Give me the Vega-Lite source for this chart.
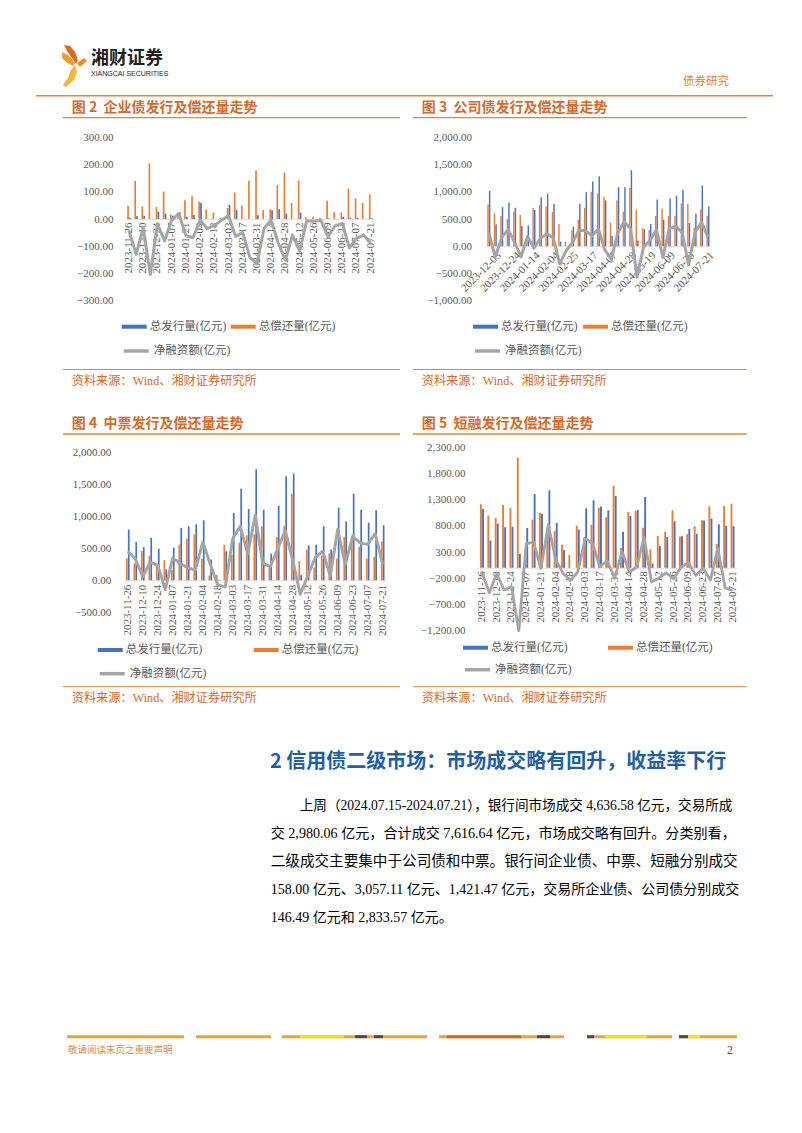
{
  "$schema": "https://vega.github.io/schema/vega-lite/v6.json",
  "width": 802,
  "height": 1133,
  "padding": 0,
  "autosize": {"type": "none"},
  "background": "white",
  "config": {
    "view": {"stroke": null},
    "font": "Noto Sans CJK SC",
    "axis": {"labelFont": "Liberation Serif", "labelFontSize": 11, "labelColor": "#595959", "grid": false, "ticks": false, "tickSize": 0, "labelOverlap": false},
    "legend": {"labelFont": "Liberation Serif, Noto Sans CJK SC", "labelFontSize": 11.5, "labelColor": "#595959", "padding": 0, "labelOffset": 3}
  },
  "datasets": {
    "c2": [
      {"w": "2023-11-26", "issue": 5, "repay": 48, "net": -43},
      {"w": "2023-12-03", "issue": 10, "repay": 140, "net": -130},
      {"w": "2023-12-10", "issue": 12, "repay": 46, "net": -34},
      {"w": "2023-12-17", "issue": 0, "repay": 204, "net": -204},
      {"w": "2023-12-24", "issue": 27, "repay": 44, "net": -17},
      {"w": "2023-12-31", "issue": 20, "repay": 101, "net": -81},
      {"w": "2024-01-07", "issue": 12, "repay": 17, "net": -5},
      {"w": "2024-01-14", "issue": 25, "repay": 5, "net": 20},
      {"w": "2024-01-21", "issue": 8, "repay": 69, "net": -61},
      {"w": "2024-01-28", "issue": 15, "repay": 84, "net": -69},
      {"w": "2024-02-04", "issue": 60, "repay": 64, "net": -4},
      {"w": "2024-02-11", "issue": 0, "repay": 35, "net": -35},
      {"w": "2024-02-18", "issue": 0, "repay": 24, "net": -24},
      {"w": "2024-02-25", "issue": 0, "repay": 5, "net": -5},
      {"w": "2024-03-03", "issue": 52, "repay": 40, "net": 12},
      {"w": "2024-03-10", "issue": 33, "repay": 97, "net": -64},
      {"w": "2024-03-17", "issue": 0, "repay": 50, "net": -50},
      {"w": "2024-03-24", "issue": 0, "repay": 141, "net": -141},
      {"w": "2024-03-31", "issue": 14, "repay": 179, "net": -165},
      {"w": "2024-04-07", "issue": 0, "repay": 34, "net": -34},
      {"w": "2024-04-14", "issue": 32, "repay": 36, "net": -4},
      {"w": "2024-04-21", "issue": 36, "repay": 125, "net": -89},
      {"w": "2024-04-28", "issue": 20, "repay": 171, "net": -151},
      {"w": "2024-05-05", "issue": 0, "repay": 59, "net": -59},
      {"w": "2024-05-12", "issue": 24, "repay": 142, "net": -118},
      {"w": "2024-05-19", "issue": 0, "repay": 6, "net": -6},
      {"w": "2024-05-26", "issue": 0, "repay": 8, "net": -8},
      {"w": "2024-06-02", "issue": 0, "repay": 5, "net": -5},
      {"w": "2024-06-09", "issue": 2, "repay": 67, "net": -65},
      {"w": "2024-06-16", "issue": 0, "repay": 25, "net": -25},
      {"w": "2024-06-23", "issue": 8, "repay": 24, "net": -16},
      {"w": "2024-06-30", "issue": 5, "repay": 111, "net": -106},
      {"w": "2024-07-07", "issue": 5, "repay": 76, "net": -71},
      {"w": "2024-07-14", "issue": 0, "repay": 59, "net": -59},
      {"w": "2024-07-21", "issue": 3, "repay": 91, "net": -88}
    ],
    "c3": [
      {"w": "2023-11-26", "issue": 1018, "repay": 768, "net": 250},
      {"w": "2023-12-03", "issue": 402, "repay": 604, "net": -202},
      {"w": "2023-12-10", "issue": 720, "repay": 555, "net": 165},
      {"w": "2023-12-17", "issue": 805, "repay": 500, "net": 305},
      {"w": "2023-12-24", "issue": 707, "repay": 634, "net": 73},
      {"w": "2023-12-31", "issue": 378, "repay": 573, "net": -195},
      {"w": "2024-01-07", "issue": 378, "repay": 197, "net": 181},
      {"w": "2024-01-14", "issue": 665, "repay": 700, "net": -35},
      {"w": "2024-01-21", "issue": 902, "repay": 756, "net": 146},
      {"w": "2024-01-28", "issue": 963, "repay": 732, "net": 231},
      {"w": "2024-02-04", "issue": 780, "repay": 628, "net": 152},
      {"w": "2024-02-11", "issue": 85, "repay": 409, "net": -324},
      {"w": "2024-02-18", "issue": 0, "repay": 80, "net": -80},
      {"w": "2024-02-25", "issue": 362, "repay": 294, "net": 68},
      {"w": "2024-03-03", "issue": 780, "repay": 488, "net": 292},
      {"w": "2024-03-10", "issue": 994, "repay": 707, "net": 287},
      {"w": "2024-03-17", "issue": 1189, "repay": 1000, "net": 189},
      {"w": "2024-03-24", "issue": 1287, "repay": 970, "net": 317},
      {"w": "2024-03-31", "issue": 841, "repay": 909, "net": -68},
      {"w": "2024-04-07", "issue": 189, "repay": 433, "net": -244},
      {"w": "2024-04-14", "issue": 1085, "repay": 841, "net": 244},
      {"w": "2024-04-21", "issue": 1085, "repay": 634, "net": 451},
      {"w": "2024-04-28", "issue": 1396, "repay": 1073, "net": 323},
      {"w": "2024-05-05", "issue": 104, "repay": 671, "net": -567},
      {"w": "2024-05-12", "issue": 311, "repay": 329, "net": -18},
      {"w": "2024-05-19", "issue": 409, "repay": 299, "net": 110},
      {"w": "2024-05-26", "issue": 860, "repay": 555, "net": 305},
      {"w": "2024-06-02", "issue": 488, "repay": 695, "net": -207},
      {"w": "2024-06-09", "issue": 878, "repay": 555, "net": 323},
      {"w": "2024-06-16", "issue": 927, "repay": 561, "net": 366},
      {"w": "2024-06-23", "issue": 1037, "repay": 787, "net": 250},
      {"w": "2024-06-30", "issue": 427, "repay": 774, "net": -347},
      {"w": "2024-07-07", "issue": 598, "repay": 341, "net": 257},
      {"w": "2024-07-14", "issue": 1116, "repay": 677, "net": 439},
      {"w": "2024-07-21", "issue": 732, "repay": 561, "net": 171}
    ],
    "c4": [
      {"w": "2023-11-26", "issue": 793, "repay": 340, "net": 453},
      {"w": "2023-12-03", "issue": 597, "repay": 263, "net": 334},
      {"w": "2023-12-10", "issue": 520, "repay": 458, "net": 62},
      {"w": "2023-12-17", "issue": 664, "repay": 381, "net": 283},
      {"w": "2023-12-24", "issue": 494, "repay": 263, "net": 231},
      {"w": "2023-12-31", "issue": 170, "repay": 314, "net": -144},
      {"w": "2024-01-07", "issue": 510, "repay": 160, "net": 350},
      {"w": "2024-01-14", "issue": 819, "repay": 556, "net": 263},
      {"w": "2024-01-21", "issue": 845, "repay": 649, "net": 196},
      {"w": "2024-01-28", "issue": 875, "repay": 716, "net": 159},
      {"w": "2024-02-04", "issue": 937, "repay": 340, "net": 597},
      {"w": "2024-02-11", "issue": 324, "repay": 74, "net": 250},
      {"w": "2024-02-18", "issue": 10, "repay": 82, "net": -72},
      {"w": "2024-02-25", "issue": 453, "repay": 556, "net": -103},
      {"w": "2024-03-03", "issue": 1052, "repay": 400, "net": 652},
      {"w": "2024-03-10", "issue": 1432, "repay": 589, "net": 843},
      {"w": "2024-03-17", "issue": 1115, "repay": 703, "net": 412},
      {"w": "2024-03-24", "issue": 1734, "repay": 718, "net": 1016},
      {"w": "2024-03-31", "issue": 1104, "repay": 840, "net": 264},
      {"w": "2024-04-07", "issue": 417, "repay": 205, "net": 212},
      {"w": "2024-04-14", "issue": 1167, "repay": 677, "net": 490},
      {"w": "2024-04-21", "issue": 1625, "repay": 849, "net": 776},
      {"w": "2024-04-28", "issue": 1667, "repay": 1354, "net": 313},
      {"w": "2024-05-05", "issue": 82, "repay": 299, "net": -217},
      {"w": "2024-05-12", "issue": 546, "repay": 479, "net": 67},
      {"w": "2024-05-19", "issue": 556, "repay": 200, "net": 356},
      {"w": "2024-05-26", "issue": 845, "repay": 391, "net": 454},
      {"w": "2024-06-02", "issue": 484, "repay": 417, "net": 67},
      {"w": "2024-06-09", "issue": 1135, "repay": 340, "net": 795},
      {"w": "2024-06-16", "issue": 922, "repay": 675, "net": 247},
      {"w": "2024-06-23", "issue": 1354, "repay": 667, "net": 687},
      {"w": "2024-06-30", "issue": 1104, "repay": 521, "net": 583},
      {"w": "2024-07-07", "issue": 901, "repay": 340, "net": 561},
      {"w": "2024-07-14", "issue": 1094, "repay": 366, "net": 728},
      {"w": "2024-07-21", "issue": 859, "repay": 608, "net": 251}
    ],
    "c5": [
      {"w": "2023-11-26", "issue": 1123, "repay": 1212, "net": -89},
      {"w": "2023-12-03", "issue": 522, "repay": 996, "net": -474},
      {"w": "2023-12-10", "issue": 844, "repay": 952, "net": -108},
      {"w": "2023-12-17", "issue": 775, "repay": 1199, "net": -424},
      {"w": "2023-12-24", "issue": 782, "repay": 1142, "net": -360},
      {"w": "2023-12-31", "issue": 269, "repay": 2103, "net": -1834},
      {"w": "2024-01-07", "issue": 762, "repay": 302, "net": 460},
      {"w": "2024-01-14", "issue": 1408, "repay": 920, "net": 488},
      {"w": "2024-01-21", "issue": 1034, "repay": 1047, "net": -13},
      {"w": "2024-01-28", "issue": 1478, "repay": 652, "net": 826},
      {"w": "2024-02-04", "issue": 857, "repay": 700, "net": 157},
      {"w": "2024-02-11", "issue": 338, "repay": 440, "net": -102},
      {"w": "2024-02-18", "issue": 0, "repay": 243, "net": -243},
      {"w": "2024-02-25", "issue": 731, "repay": 807, "net": -76},
      {"w": "2024-03-03", "issue": 1136, "repay": 580, "net": 556},
      {"w": "2024-03-10", "issue": 1288, "repay": 820, "net": 468},
      {"w": "2024-03-17", "issue": 1170, "repay": 1150, "net": 20},
      {"w": "2024-03-24", "issue": 1098, "repay": 965, "net": 133},
      {"w": "2024-03-31", "issue": 1370, "repay": 1565, "net": -195},
      {"w": "2024-04-07", "issue": 687, "repay": 382, "net": 305},
      {"w": "2024-04-14", "issue": 991, "repay": 1067, "net": -76},
      {"w": "2024-04-21", "issue": 1100, "repay": 1090, "net": 10},
      {"w": "2024-04-28", "issue": 1351, "repay": 763, "net": 588},
      {"w": "2024-05-05", "issue": 80, "repay": 351, "net": -271},
      {"w": "2024-05-12", "issue": 414, "repay": 611, "net": -197},
      {"w": "2024-05-19", "issue": 592, "repay": 687, "net": -95},
      {"w": "2024-05-26", "issue": 889, "repay": 1098, "net": -209},
      {"w": "2024-06-02", "issue": 604, "repay": 598, "net": 6},
      {"w": "2024-06-09", "issue": 744, "repay": 642, "net": 102},
      {"w": "2024-06-16", "issue": 649, "repay": 794, "net": -145},
      {"w": "2024-06-23", "issue": 902, "repay": 908, "net": -6},
      {"w": "2024-06-30", "issue": 940, "repay": 1174, "net": -234},
      {"w": "2024-07-07", "issue": 832, "repay": 458, "net": 374},
      {"w": "2024-07-14", "issue": 800, "repay": 1180, "net": -380},
      {"w": "2024-07-21", "issue": 794, "repay": 1225, "net": -431}
    ]
  },
  "layer": [
    {
      "data": {"values": [{}]},
      "layer": [
        {"mark": {"type": "point", "filled": true, "strokeWidth": 0, "opacity": 1, "size": 1936, "color": "#e06a1b", "shape": "M-0.36,-0.91L-0.09,-0.86L0.14,-0.59L0.27,-0.23L0.18,-0.05L0,-0.32L-0.23,-0.64Z"},
         "encoding": {"x": {"datum": 72, "type": "quantitative", "scale": {"domain": [0, 802], "range": [0, 802], "nice": false, "zero": false}, "axis": null},
                      "y": {"datum": 65, "type": "quantitative", "scale": {"domain": [0, 1133], "range": [0, 1133], "nice": false, "zero": false}, "axis": null}}},
        {"mark": {"type": "point", "filled": true, "strokeWidth": 0, "opacity": 1, "size": 1936, "color": "#f39a2b", "shape": "M-0.45,-0.59L-0.18,-0.45L0.14,-0.09L0.05,0.05L-0.27,-0.14L-0.45,-0.32Z"},
         "encoding": {"x": {"datum": 72, "type": "quantitative"}, "y": {"datum": 65, "type": "quantitative"}}},
        {"mark": {"type": "point", "filled": true, "strokeWidth": 0, "opacity": 1, "size": 1936, "color": "#f7b440", "shape": "M0.14,0L0.23,0.32L0.09,0.68L-0.27,1L-0.41,0.91L-0.18,0.59L-0.05,0.23Z"},
         "encoding": {"x": {"datum": 72, "type": "quantitative"}, "y": {"datum": 65, "type": "quantitative"}}},
        {"mark": {"type": "point", "filled": true, "strokeWidth": 0, "opacity": 1, "size": 1936, "color": "#ef8c22", "shape": "M0.23,-0.09L0.55,-0.32L0.68,-0.18L0.36,0.09Z"},
         "encoding": {"x": {"datum": 72, "type": "quantitative"}, "y": {"datum": 65, "type": "quantitative"}}},
        {"mark": {"type": "text", "text": "湘财证券", "font": "Noto Sans CJK SC", "fontSize": 18, "fontWeight": "bold", "color": "#231f20", "align": "left", "baseline": "middle"},
         "encoding": {"x": {"datum": 91}, "y": {"datum": 58.5}}},
        {"mark": {"type": "text", "text": "XIANGCAI SECURITIES", "font": "Liberation Sans Narrow, Liberation Sans", "fontSize": 7, "color": "#231f20", "align": "left", "baseline": "middle"},
         "encoding": {"x": {"datum": 91}, "y": {"datum": 73.5}}},
        {"mark": {"type": "text", "text": "债券研究", "font": "Noto Sans CJK SC", "fontSize": 11.5, "color": "#d9823b", "align": "left", "baseline": "middle"},
         "encoding": {"x": {"datum": 683}, "y": {"datum": 82}}},
        {"mark": {"type": "rule", "color": "#e8833a", "strokeWidth": 1.5},
         "encoding": {"x": {"datum": 36}, "x2": {"datum": 773}, "y": {"datum": 95.7}}},
        {"mark": {"type": "text", "text": "图\u00a02\u00a0\u00a0企业债发行及偿还量走势", "fontSize": 14, "fontWeight": "bold", "color": "#d8692a", "align": "left", "baseline": "middle"},
         "encoding": {"x": {"datum": 71.7}, "y": {"datum": 107.7}}},
        {"mark": {"type": "text", "text": "图\u00a03\u00a0\u00a0公司债发行及偿还量走势", "fontSize": 14, "fontWeight": "bold", "color": "#d8692a", "align": "left", "baseline": "middle"},
         "encoding": {"x": {"datum": 421.7}, "y": {"datum": 107.7}}},
        {"mark": {"type": "rule", "color": "#e8833a", "strokeWidth": 1.3},
         "encoding": {"x": {"datum": 63}, "x2": {"datum": 400}, "y": {"datum": 117.7}}},
        {"mark": {"type": "rule", "color": "#e8833a", "strokeWidth": 1.3},
         "encoding": {"x": {"datum": 413}, "x2": {"datum": 746.7}, "y": {"datum": 117.7}}},
        {"mark": {"type": "rule", "color": "#e8833a", "strokeWidth": 1},
         "encoding": {"x": {"datum": 63}, "x2": {"datum": 400}, "y": {"datum": 369.5}}},
        {"mark": {"type": "rule", "color": "#e8833a", "strokeWidth": 1},
         "encoding": {"x": {"datum": 413}, "x2": {"datum": 746.7}, "y": {"datum": 369.5}}},
        {"mark": {"type": "text", "text": "资料来源：Wind、湘财证券研究所", "font": "Liberation Serif, Noto Sans CJK SC", "fontSize": 12.2, "color": "#d8692a", "align": "left", "baseline": "middle"},
         "encoding": {"x": {"datum": 71.7}, "y": {"datum": 381}}},
        {"mark": {"type": "text", "text": "资料来源：Wind、湘财证券研究所", "font": "Liberation Serif, Noto Sans CJK SC", "fontSize": 12.2, "color": "#d8692a", "align": "left", "baseline": "middle"},
         "encoding": {"x": {"datum": 421.7}, "y": {"datum": 381}}},
        {"mark": {"type": "text", "text": "图\u00a04\u00a0\u00a0中票发行及偿还量走势", "fontSize": 14, "fontWeight": "bold", "color": "#d8692a", "align": "left", "baseline": "middle"},
         "encoding": {"x": {"datum": 71.7}, "y": {"datum": 423.5}}},
        {"mark": {"type": "text", "text": "图\u00a05\u00a0\u00a0短融发行及偿还量走势", "fontSize": 14, "fontWeight": "bold", "color": "#d8692a", "align": "left", "baseline": "middle"},
         "encoding": {"x": {"datum": 421.7}, "y": {"datum": 423.5}}},
        {"mark": {"type": "rule", "color": "#e8833a", "strokeWidth": 1.3},
         "encoding": {"x": {"datum": 63}, "x2": {"datum": 400}, "y": {"datum": 434}}},
        {"mark": {"type": "rule", "color": "#e8833a", "strokeWidth": 1.3},
         "encoding": {"x": {"datum": 413}, "x2": {"datum": 746.7}, "y": {"datum": 434}}},
        {"mark": {"type": "rule", "color": "#e8833a", "strokeWidth": 1},
         "encoding": {"x": {"datum": 63}, "x2": {"datum": 400}, "y": {"datum": 686.7}}},
        {"mark": {"type": "rule", "color": "#e8833a", "strokeWidth": 1},
         "encoding": {"x": {"datum": 413}, "x2": {"datum": 746.7}, "y": {"datum": 686.7}}},
        {"mark": {"type": "text", "text": "资料来源：Wind、湘财证券研究所", "font": "Liberation Serif, Noto Sans CJK SC", "fontSize": 12.2, "color": "#d8692a", "align": "left", "baseline": "middle"},
         "encoding": {"x": {"datum": 71.7}, "y": {"datum": 698}}},
        {"mark": {"type": "text", "text": "资料来源：Wind、湘财证券研究所", "font": "Liberation Serif, Noto Sans CJK SC", "fontSize": 12.2, "color": "#d8692a", "align": "left", "baseline": "middle"},
         "encoding": {"x": {"datum": 421.7}, "y": {"datum": 698}}},
        {"mark": {"type": "text", "text": "2 信用债二级市场：市场成交略有回升，收益率下行", "font": "Noto Sans CJK SC", "fontSize": 20, "fontWeight": "bold", "color": "#1f5fa5", "align": "left", "baseline": "middle"},
         "encoding": {"x": {"datum": 270}, "y": {"datum": 762}}},
        {"mark": {"type": "text", "text": "上周（2024.07.15-2024.07.21），银行间市场成交 4,636.58 亿元，交易所成", "font": "Liberation Serif, Noto Sans CJK SC", "fontSize": 13.6, "color": "#000000", "align": "left", "baseline": "middle"},
         "encoding": {"x": {"datum": 299.7}, "y": {"datum": 805.5}}},
        {"mark": {"type": "text", "text": "交 2,980.06 亿元，合计成交 7,616.64 亿元，市场成交略有回升。分类别看，", "font": "Liberation Serif, Noto Sans CJK SC", "fontSize": 14.1, "color": "#000000", "align": "left", "baseline": "middle"},
         "encoding": {"x": {"datum": 270.7}, "y": {"datum": 833.6}}},
        {"mark": {"type": "text", "text": "二级成交主要集中于公司债和中票。银行间企业债、中票、短融分别成交", "font": "Liberation Serif, Noto Sans CJK SC", "fontSize": 14.6, "color": "#000000", "align": "left", "baseline": "middle"},
         "encoding": {"x": {"datum": 270.7}, "y": {"datum": 861.7}}},
        {"mark": {"type": "text", "text": "158.00 亿元、3,057.11 亿元、1,421.47 亿元，交易所企业债、公司债分别成交", "font": "Liberation Serif, Noto Sans CJK SC", "fontSize": 14, "color": "#000000", "align": "left", "baseline": "middle"},
         "encoding": {"x": {"datum": 270.7}, "y": {"datum": 889.8}}},
        {"mark": {"type": "text", "text": "146.49 亿元和 2,833.57 亿元。", "font": "Liberation Serif, Noto Sans CJK SC", "fontSize": 14, "color": "#000000", "align": "left", "baseline": "middle"},
         "encoding": {"x": {"datum": 270.7}, "y": {"datum": 917.9}}},
        {"mark": {"type": "rule", "color": "#f0a030", "strokeWidth": 3}, "encoding": {"x": {"datum": 67}, "x2": {"datum": 184}, "y": {"datum": 1036.7}}},
        {"mark": {"type": "rule", "color": "#f0a030", "strokeWidth": 3}, "encoding": {"x": {"datum": 196}, "x2": {"datum": 271}, "y": {"datum": 1036.7}}},
        {"mark": {"type": "rule", "color": "#f0a030", "strokeWidth": 3}, "encoding": {"x": {"datum": 282}, "x2": {"datum": 427}, "y": {"datum": 1036.7}}},
        {"mark": {"type": "rule", "color": "#f0a030", "strokeWidth": 3}, "encoding": {"x": {"datum": 439}, "x2": {"datum": 564}, "y": {"datum": 1036.7}}},
        {"mark": {"type": "rule", "color": "#f0a030", "strokeWidth": 3}, "encoding": {"x": {"datum": 587}, "x2": {"datum": 672}, "y": {"datum": 1036.7}}},
        {"mark": {"type": "rule", "color": "#f0a030", "strokeWidth": 3}, "encoding": {"x": {"datum": 679}, "x2": {"datum": 737}, "y": {"datum": 1036.7}}},
        {"mark": {"type": "rule", "color": "#f3e21c", "strokeWidth": 3}, "encoding": {"x": {"datum": 300}, "x2": {"datum": 344}, "y": {"datum": 1036.7}}},
        {"mark": {"type": "rule", "color": "#4a4a4a", "strokeWidth": 3}, "encoding": {"x": {"datum": 355}, "x2": {"datum": 367}, "y": {"datum": 1036.7}}},
        {"mark": {"type": "rule", "color": "#4a4a4a", "strokeWidth": 3}, "encoding": {"x": {"datum": 374}, "x2": {"datum": 383}, "y": {"datum": 1036.7}}},
        {"mark": {"type": "rule", "color": "#d2691e", "strokeWidth": 3}, "encoding": {"x": {"datum": 447}, "x2": {"datum": 521}, "y": {"datum": 1036.7}}},
        {"mark": {"type": "rule", "color": "#4a4a4a", "strokeWidth": 3}, "encoding": {"x": {"datum": 537}, "x2": {"datum": 550}, "y": {"datum": 1036.7}}},
        {"mark": {"type": "rule", "color": "#4a4a4a", "strokeWidth": 3}, "encoding": {"x": {"datum": 587}, "x2": {"datum": 594}, "y": {"datum": 1036.7}}},
        {"mark": {"type": "rule", "color": "#f3e21c", "strokeWidth": 3}, "encoding": {"x": {"datum": 605}, "x2": {"datum": 647}, "y": {"datum": 1036.7}}},
        {"mark": {"type": "rule", "color": "#4a4a4a", "strokeWidth": 3}, "encoding": {"x": {"datum": 679}, "x2": {"datum": 688}, "y": {"datum": 1036.7}}},
        {"mark": {"type": "rule", "color": "#f3e21c", "strokeWidth": 3}, "encoding": {"x": {"datum": 688}, "x2": {"datum": 700}, "y": {"datum": 1036.7}}},
        {"mark": {"type": "text", "text": "敬请阅读末页之重要声明", "font": "Noto Sans CJK SC", "fontSize": 9.5, "color": "#e08a3c", "align": "left", "baseline": "middle"},
         "encoding": {"x": {"datum": 68}, "y": {"datum": 1049.5}}},
        {"mark": {"type": "text", "text": "2", "font": "Liberation Serif", "fontSize": 12, "color": "#9b2c1f", "align": "left", "baseline": "middle"},
         "encoding": {"x": {"datum": 727}, "y": {"datum": 1049.5}}}
      ]
    },
    {
      "data": {"name": "c2"},
      "layer": [
        {
          "transform": [{"fold": ["issue", "repay"], "as": ["series", "value"]}],
          "mark": {"type": "bar"},
          "encoding": {
            "x": {"field": "w", "type": "ordinal", "title": null,
                  "scale": {"type": "band", "range": [125.45, 374.25], "paddingInner": 0.5, "paddingOuter": 0.25},
                  "axis": {"orient": "bottom", "offset": -914, "values": ["2023-11-26","2023-12-10","2023-12-24","2024-01-07","2024-01-21","2024-02-04","2024-02-18","2024-03-03","2024-03-17","2024-03-31","2024-04-14","2024-04-28","2024-05-12","2024-05-26","2024-06-09","2024-06-23","2024-07-07","2024-07-21"], "labelAngle": 270, "labelPadding": 3, "domainColor": "#d9d9d9", "domainWidth": 0.8, "ticks": false, "title": null}},
            "xOffset": {"field": "series", "type": "nominal", "scale": {"domain": ["repay", "issue"], "paddingInner": 0.1}},
            "y": {"field": "value", "type": "quantitative", "stack": null, "title": null,
                  "scale": {"domain": [-300, 300], "range": [300.6, 137.4], "nice": false, "zero": false},
                  "axis": {"orient": "left", "offset": -125.45, "values": [-300, -200, -100, 0, 100, 200, 300], "format": ",.2f", "domain": false, "ticks": false, "labelPadding": 12.5, "title": null}},
            "fill": {"field": "series", "type": "nominal", "scale": {"domain": ["issue", "repay"], "range": ["#4472c4", "#ed7d31"]},
                     "legend": {"title": null, "orient": "none", "legendX": 121.7, "legendY": 314.2, "direction": "horizontal", "symbolType": "M-1,-0.16H1V0.16H-1Z", "symbolSize": 625, "symbolStrokeWidth": 0, "columnPadding": 4, "labelExpr": "datum.label == 'issue' ? '总发行量(亿元)' : '总偿还量(亿元)'"}}
          }
        },
        {
          "mark": {"type": "line", "strokeWidth": 3, "strokeJoin": "round"},
          "encoding": {
            "x": {"field": "w", "type": "ordinal", "title": null},
            "y": {"field": "net", "type": "quantitative", "title": null},
            "stroke": {"datum": "净融资额(亿元)", "scale": {"range": ["#a5a5a5"]},
                       "legend": {"title": null, "orient": "none", "legendX": 121.7, "legendY": 336.5, "symbolType": "M-1,0H1", "symbolSize": 625, "symbolStrokeWidth": 3.5}}
          }
        }
      ]
    },
    {
      "data": {"name": "c3"},
      "layer": [
        {
          "transform": [{"fold": ["issue", "repay"], "as": ["series", "value"]}],
          "mark": {"type": "bar"},
          "encoding": {
            "x": {"field": "w", "type": "ordinal", "title": null,
                  "scale": {"type": "band", "range": [485.6, 711.2], "paddingInner": 0.53, "paddingOuter": 0.265},
                  "axis": {"orient": "bottom", "offset": -886.8, "values": ["2023-12-03","2023-12-24","2024-01-14","2024-02-04","2024-02-25","2024-03-17","2024-04-07","2024-04-28","2024-05-19","2024-06-09","2024-06-30","2024-07-21"], "labelAngle": 315, "labelPadding": 3, "domainColor": "#d9d9d9", "domainWidth": 0.8, "ticks": false, "title": null}},
            "xOffset": {"field": "series", "type": "nominal", "scale": {"domain": ["repay", "issue"], "paddingInner": 0.1}},
            "y": {"field": "value", "type": "quantitative", "stack": null, "title": null,
                  "scale": {"domain": [-1000, 2000], "range": [300.6, 137.4], "nice": false, "zero": false},
                  "axis": {"orient": "left", "offset": -485.6, "values": [-1000, -500, 0, 500, 1000, 1500, 2000], "format": ",.2f", "domain": false, "ticks": false, "labelPadding": 14, "title": null}},
            "fill": {"field": "series", "type": "nominal", "scale": {"domain": ["issue", "repay"], "range": ["#4472c4", "#ed7d31"]},
                     "legend": {"title": null, "orient": "none", "legendX": 473, "legendY": 314.2, "direction": "horizontal", "symbolType": "M-1,-0.16H1V0.16H-1Z", "symbolSize": 625, "symbolStrokeWidth": 0, "columnPadding": 5, "labelExpr": "datum.label == 'issue' ? '总发行量(亿元)' : '总偿还量(亿元)'"}}
          }
        },
        {
          "mark": {"type": "line", "strokeWidth": 3, "strokeJoin": "round"},
          "encoding": {
            "x": {"field": "w", "type": "ordinal", "title": null},
            "y": {"field": "net", "type": "quantitative", "title": null},
            "stroke": {"datum": "净融资额(亿元)", "scale": {"range": ["#a5a5a5"]},
                       "legend": {"title": null, "orient": "none", "legendX": 473, "legendY": 336.5, "symbolType": "M-1,0H1", "symbolSize": 625, "symbolStrokeWidth": 3.5}}
          }
        }
      ]
    },
    {
      "data": {"name": "c4"},
      "layer": [
        {
          "transform": [{"fold": ["issue", "repay"], "as": ["series", "value"]}],
          "mark": {"type": "bar"},
          "encoding": {
            "x": {"field": "w", "type": "ordinal", "title": null,
                  "scale": {"type": "band", "range": [124.05, 386.45], "paddingInner": 0.52, "paddingOuter": 0.26},
                  "axis": {"orient": "bottom", "offset": -552.8, "values": ["2023-11-26","2023-12-10","2023-12-24","2024-01-07","2024-01-21","2024-02-04","2024-02-18","2024-03-03","2024-03-17","2024-03-31","2024-04-14","2024-04-28","2024-05-12","2024-05-26","2024-06-09","2024-06-23","2024-07-07","2024-07-21"], "labelAngle": 270, "labelPadding": 4, "domainColor": "#d9d9d9", "domainWidth": 0.8, "ticks": false, "title": null}},
            "xOffset": {"field": "series", "type": "nominal", "scale": {"domain": ["repay", "issue"], "paddingInner": 0.1}},
            "y": {"field": "value", "type": "quantitative", "stack": null, "title": null,
                  "scale": {"domain": [-500, 2000], "range": [612.3, 452.3], "nice": false, "zero": false},
                  "axis": {"orient": "left", "offset": -124.05, "values": [-500, 0, 500, 1000, 1500, 2000], "format": ",.2f", "domain": false, "ticks": false, "labelPadding": 13.3, "title": null}},
            "fill": {"field": "series", "type": "nominal", "scale": {"domain": ["issue", "repay"], "range": ["#4472c4", "#ed7d31"]},
                     "legend": {"title": null, "orient": "none", "legendX": 97.7, "legendY": 637.5, "direction": "horizontal", "symbolType": "M-1,-0.16H1V0.16H-1Z", "symbolSize": 625, "symbolStrokeWidth": 0, "columnPadding": 51, "labelExpr": "datum.label == 'issue' ? '总发行量(亿元)' : '总偿还量(亿元)'"}}
          }
        },
        {
          "mark": {"type": "line", "strokeWidth": 3, "strokeJoin": "round"},
          "encoding": {
            "x": {"field": "w", "type": "ordinal", "title": null},
            "y": {"field": "net", "type": "quantitative", "title": null},
            "stroke": {"datum": "净融资额(亿元)", "scale": {"range": ["#a5a5a5"]},
                       "legend": {"title": null, "orient": "none", "legendX": 97.7, "legendY": 659.2, "symbolType": "M-1,0H1", "symbolSize": 625, "symbolStrokeWidth": 3.5}}
          }
        }
      ]
    },
    {
      "data": {"name": "c5"},
      "layer": [
        {
          "transform": [{"fold": ["issue", "repay"], "as": ["series", "value"]}],
          "mark": {"type": "bar"},
          "encoding": {
            "x": {"field": "w", "type": "ordinal", "title": null,
                  "scale": {"type": "band", "range": [478.3, 736.2], "paddingInner": 0.46, "paddingOuter": 0.23},
                  "axis": {"orient": "bottom", "offset": -565.2, "values": ["2023-11-26","2023-12-10","2023-12-24","2024-01-07","2024-01-21","2024-02-04","2024-02-18","2024-03-03","2024-03-17","2024-03-31","2024-04-14","2024-04-28","2024-05-12","2024-05-26","2024-06-09","2024-06-23","2024-07-07","2024-07-21"], "labelAngle": 270, "labelPadding": 3, "domainColor": "#d9d9d9", "domainWidth": 0.8, "ticks": false, "title": null}},
            "xOffset": {"field": "series", "type": "nominal", "scale": {"domain": ["repay", "issue"], "paddingInner": 0.1}},
            "y": {"field": "value", "type": "quantitative", "stack": null, "title": null,
                  "scale": {"domain": [-1200, 2300], "range": [630.7, 447.3], "nice": false, "zero": false, "clamp": true},
                  "axis": {"orient": "left", "offset": -478.3, "values": [-1200, -700, -200, 300, 800, 1300, 1800, 2300], "format": ",.2f", "domain": false, "ticks": false, "labelPadding": 13.3, "title": null}},
            "fill": {"field": "series", "type": "nominal", "scale": {"domain": ["issue", "repay"], "range": ["#4472c4", "#ed7d31"]},
                     "legend": {"title": null, "orient": "none", "legendX": 463, "legendY": 635.2, "direction": "horizontal", "symbolType": "M-1,-0.16H1V0.16H-1Z", "symbolSize": 625, "symbolStrokeWidth": 0, "columnPadding": 40, "labelExpr": "datum.label == 'issue' ? '总发行量(亿元)' : '总偿还量(亿元)'"}}
          }
        },
        {
          "mark": {"type": "line", "strokeWidth": 2.8, "strokeJoin": "round"},
          "encoding": {
            "x": {"field": "w", "type": "ordinal", "title": null},
            "y": {"field": "net", "type": "quantitative", "title": null},
            "stroke": {"datum": "净融资额(亿元)", "scale": {"range": ["#a5a5a5"]},
                       "legend": {"title": null, "orient": "none", "legendX": 463, "legendY": 655.2, "symbolType": "M-1,0H1", "symbolSize": 625, "symbolStrokeWidth": 3.5}}
          }
        }
      ]
    }
  ],
  "resolve": {
    "scale": {"x": "independent", "y": "independent", "xOffset": "independent", "fill": "independent", "stroke": "independent"},
    "axis": {"x": "independent", "y": "independent"},
    "legend": {"fill": "independent", "stroke": "independent"}
  }
}
